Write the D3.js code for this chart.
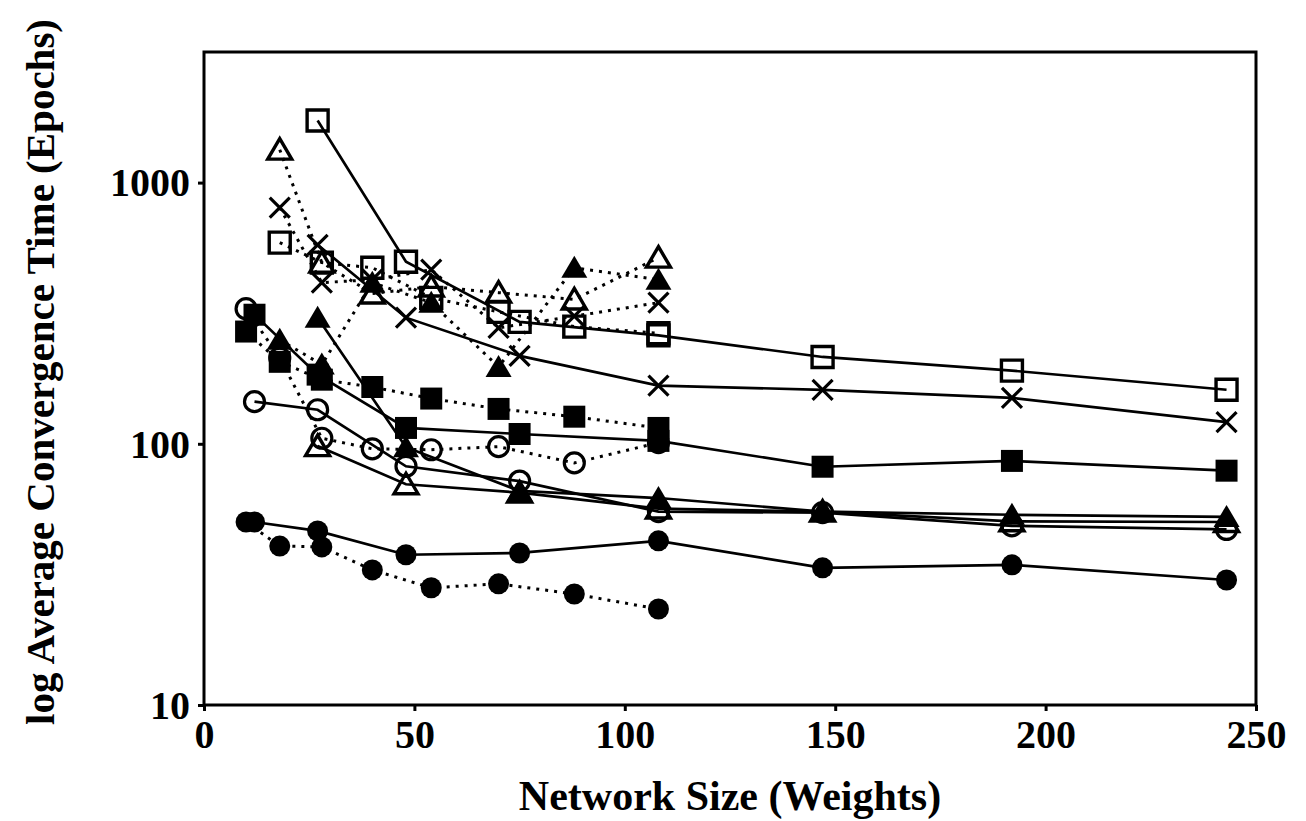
<!DOCTYPE html>
<html>
<head>
<meta charset="utf-8">
<script src="https://cdn.jsdelivr.net/npm/d3@7"></script>
<style>
  html, body { margin: 0; padding: 0; background: #fff; }
  svg { display: block; }
  .tick text { font-family: "Liberation Serif", "Times New Roman", serif; font-weight: bold; }
</style>
</head>
<body>
<svg id="chart" width="1306" height="821"></svg>
<script>
// ---- data ----
const xSolid  = [12, 27, 48, 75, 108, 147, 192, 243];
const xDotted = [10, 18, 28, 40, 54, 70, 88, 108];

const filledCircleSolid    = [50.2, 46.4, 37.6, 38.2, 42.5, 33.5, 34.4, 30.1];
const filledCircleDotted   = [50.2, 40.6, 40.3, 32.9, 28.1, 29.1, 26.6, 23.3];
const openCircleSolid      = [145, 135, 82, 72, 55, 54.5, 48.5, 47];
const openCircleDotted     = [329, 213, 105, 95.7, 94.9, 97.5, 84.5, 101];
const filledSquareSolid    = [312, 184, 115, 109, 102.6, 81.7, 86, 78.9];
const filledSquareDotted   = [269, 206, 176, 165, 149, 136, 127, 115];
const openSquareSolid      = [null, 1729, 498, 293, 260, 215, 190.6, 161];
const openSquareDotted     = [null, 589, 494, 472, 362, 320, 281, 265];
const filledTriangleSolid  = [null, 304, 97, 66, 62, 55, 53.5, 52.5];
const filledTriangleDotted = [null, 250, 201, 414, 347, 197, 472, 425];
const openTriangleSolid    = [null, 98, 70, 65, 56.5, 55, 50.5, 50.2];
const openTriangleDotted   = [null, 1337, 494, 376, 400, 379, 357, 516];
const crossSolid           = [null, 578, 304, 217, 167, 161, 150, 121];
const crossDotted          = [null, 802, 414, 425, 464, 278, 308, 347];

const xTicks = [0, 50, 100, 150, 200, 250];
const yTicks = [10, 100, 1000];
const xTitle = "Network Size (Weights)";
const yTitle = "log Average Convergence Time (Epochs)";

const series = [
  { values: filledCircleSolid,    xs: xSolid,  dotted: false, marker: "circle",   filled: true },
  { values: filledCircleDotted,   xs: xDotted, dotted: true,  marker: "circle",   filled: true },
  { values: openCircleSolid,      xs: xSolid,  dotted: false, marker: "circle",   filled: false },
  { values: openCircleDotted,     xs: xDotted, dotted: true,  marker: "circle",   filled: false },
  { values: filledSquareSolid,    xs: xSolid,  dotted: false, marker: "square",   filled: true },
  { values: filledSquareDotted,   xs: xDotted, dotted: true,  marker: "square",   filled: true },
  { values: openSquareSolid,      xs: xSolid,  dotted: false, marker: "square",   filled: false },
  { values: openSquareDotted,     xs: xDotted, dotted: true,  marker: "square",   filled: false },
  { values: filledTriangleSolid,  xs: xSolid,  dotted: false, marker: "triangle", filled: true },
  { values: filledTriangleDotted, xs: xDotted, dotted: true,  marker: "triangle", filled: true },
  { values: openTriangleSolid,    xs: xSolid,  dotted: false, marker: "triangle", filled: false },
  { values: openTriangleDotted,   xs: xDotted, dotted: true,  marker: "triangle", filled: false },
  { values: crossSolid,           xs: xSolid,  dotted: false, marker: "cross",    filled: false },
  { values: crossDotted,          xs: xDotted, dotted: true,  marker: "cross",    filled: false }
];

// ---- layout ----
const svg = d3.select("#chart");
const L = 204, R = 1256, T = 52, B = 705;
const serif = '"Liberation Serif", "Times New Roman", serif';

const x = d3.scaleLinear().domain([0, 250]).range([L, R]);
const y = d3.scaleLog().domain([10, Math.pow(10, 3.5)]).range([B, T]);

// axes
const xAxis = d3.axisBottom(x).tickValues(xTicks).tickSize(6).tickPadding(6).tickFormat(d3.format("d"));
const yAxis = d3.axisLeft(y).tickValues(yTicks).tickSize(6).tickPadding(8).tickFormat(d3.format("d"));

const gx = svg.append("g").attr("transform", `translate(0,${B})`).call(xAxis);
const gy = svg.append("g").attr("transform", `translate(${L},0)`).call(yAxis);
[gx, gy].forEach(g => {
  g.select(".domain").remove();
  g.selectAll(".tick line").attr("stroke", "#000").attr("stroke-width", 3);
  g.selectAll(".tick text").attr("fill", "#000").style("font-size", "40px");
});
gx.selectAll(".tick text").attr("dy", "0.78em");
gy.selectAll(".tick text").attr("dy", "0.33em");

// frame
svg.append("rect")
  .attr("x", L).attr("y", T).attr("width", R - L).attr("height", B - T)
  .attr("fill", "none").attr("stroke", "#000").attr("stroke-width", 3);

// titles
svg.append("text")
  .attr("x", 730).attr("y", 810)
  .attr("text-anchor", "middle")
  .style("font-family", serif)
  .style("font-weight", "bold").style("font-size", "42px")
  .text(xTitle);

svg.append("text")
  .attr("transform", `translate(54,372) rotate(-90)`)
  .attr("text-anchor", "middle")
  .style("font-family", serif)
  .style("font-weight", "bold").style("font-size", "41px")
  .text(yTitle);

// lines
const line = d3.line()
  .defined(d => d.v != null)
  .x(d => x(d.x)).y(d => y(d.v));

const plot = svg.append("g");

series.forEach(s => {
  const pts = s.xs.map((xv, i) => ({ x: xv, v: s.values[i] })).filter(d => d.v != null);
  plot.append("path")
    .datum(pts)
    .attr("d", line)
    .attr("fill", "none")
    .attr("stroke", "#000")
    .attr("stroke-width", s.dotted ? 3 : 2.7)
    .attr("stroke-dasharray", s.dotted ? "3,6" : null);
});

// markers
function markerPath(type, filled) {
  switch (type) {
    case "square": return filled ? "M-11,-11H11V11H-11Z" : "M-10.5,-10.5H10.5V10.5H-10.5Z";
    case "triangle": return filled ? "M0,-12L13,10L-13,10Z" : "M0,-11L12,9.5L-12,9.5Z";
    case "cross": return "M-10,-10L10,10M10,-10L-10,10";
  }
  return null;
}

series.forEach(s => {
  const pts = s.xs.map((xv, i) => ({ x: xv, v: s.values[i] })).filter(d => d.v != null);
  const g = plot.append("g");
  if (s.marker === "circle") {
    g.selectAll("circle").data(pts).enter().append("circle")
      .attr("cx", d => x(d.x)).attr("cy", d => y(d.v))
      .attr("r", s.filled ? 10.5 : 10)
      .attr("fill", s.filled ? "#000" : "none")
      .attr("stroke", "#000").attr("stroke-width", s.filled ? 0 : 3.2);
  } else {
    g.selectAll("path").data(pts).enter().append("path")
      .attr("transform", d => `translate(${x(d.x)},${y(d.v)})`)
      .attr("d", markerPath(s.marker, s.filled))
      .attr("fill", s.filled ? "#000" : "none")
      .attr("stroke", "#000")
      .attr("stroke-width", s.filled ? 0 : (s.marker === "cross" ? 3.2 : 3.4))
      .attr("stroke-linejoin", "miter");
  }
});
</script>
</body>
</html>
